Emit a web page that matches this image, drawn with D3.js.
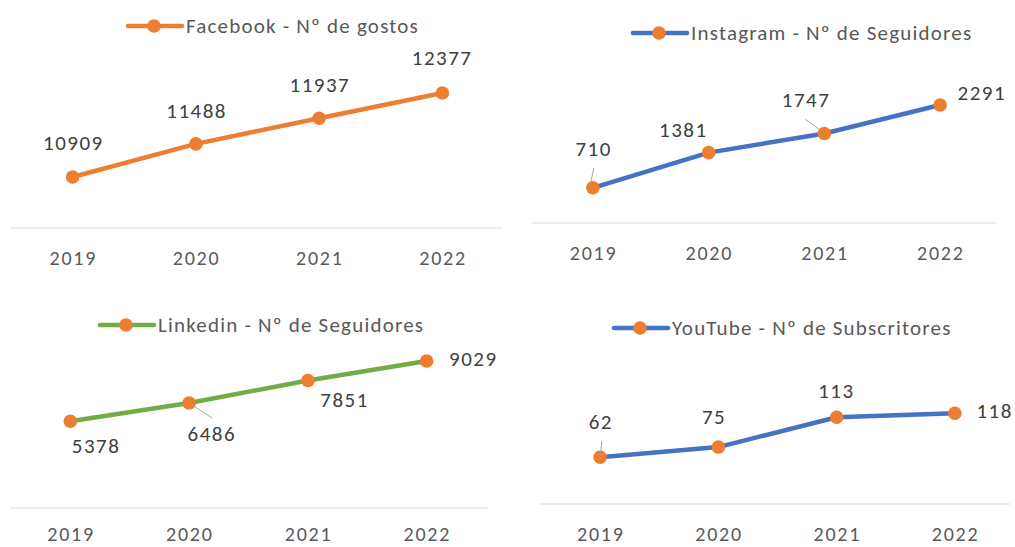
<!DOCTYPE html>
<html>
<head>
<meta charset="utf-8">
<script src="https://cdn.jsdelivr.net/npm/d3@7"></script>
<style>
  body { margin: 0; background: #fff; }
  text { font-family: Carlito, Lato, "Liberation Sans", sans-serif; }
</style>
</head>
<body>
<div id="chart"></div>
<script>
const width = 1015;
const height = 547;

// data
const years = ['2019', '2020', '2021', '2022'];
const facebook = [10909, 11488, 11937, 12377];
const instagram = [710, 1381, 1747, 2291];
const linkedin = [5378, 6486, 7851, 9029];
const youtube = [62, 75, 113, 118];
const titles = ['Facebook - Nº de gostos', 'Instagram - Nº de Seguidores',
                'Linkedin - Nº de Seguidores', 'YouTube - Nº de Subscritores'];

const orange = '#ed7d31', blue = '#4472c4', green = '#70ad47';

// layout of the four small charts
// labels: [dx, dy] from the point, lead: leader line [x1, y1, x2, y2] from the point
const panels = [
  { values: facebook, title: titles[0], line: orange,
    xr: [11, 504], axis: [11, 503], axisY: 228, yDomain: [10000, 12500], yr: [229, 86], yearY: 258,
    legend: { x: 128, y: 26 },
    labels: [[0, -34], [0, -33], [0, -33], [-1, -35]], lead: [] },
  { values: instagram, title: titles[1], line: blue,
    xr: [535, 998], axis: [532, 996], axisY: 223, yDomain: [0, 2500], yr: [225, 94], yearY: 253,
    legend: { x: 633, y: 33 },
    labels: [[0, -39], [-26, -23], [-19, -33], [41, -12]],
    lead: [[-2, -6, 1, -20], null, [-5, -4, -19, -14], null] },
  { values: linkedin, title: titles[2], line: green,
    xr: [11, 486], axis: [10, 488], axisY: 508, yDomain: [0, 10000], yr: [510, 345], yearY: 534,
    legend: { x: 100, y: 325 },
    labels: [[25, 25], [22, 31], [36, 20], [46, -2]],
    lead: [null, [3, 2, 23, 15], null, null] },
  { values: youtube, title: titles[3], line: blue,
    xr: [541, 1014], axis: [540, 1010], axisY: 504, yDomain: [0, 140], yr: [506, 396], yearY: 534,
    legend: { x: 614, y: 328 },
    labels: [[0, -35], [-5, -30], [-1, -26], [39, -2]],
    lead: [[1.7, -16, 0.7, -5], null, null, null] }
];

const svg = d3.select('#chart')
  .append('svg')
  .attr('width', width)
  .attr('height', height);

panels.forEach(function(p) {
  const g = svg.append('g');
  const x = d3.scalePoint().domain(years).range(p.xr).padding(0.5);
  const y = d3.scaleLinear().domain(p.yDomain).range(p.yr);

  // category axis: a light baseline and the year labels
  g.append('line')
    .attr('x1', p.axis[0]).attr('x2', p.axis[1])
    .attr('y1', p.axisY).attr('y2', p.axisY)
    .attr('stroke', '#d9d9d9')
    .attr('stroke-width', 1.2);
  g.selectAll('text.year')
    .data(years)
    .enter()
    .append('text')
    .classed('year', true)
    .attr('x', d => x(d) + 0.75)
    .attr('y', p.yearY)
    .attr('text-anchor', 'middle')
    .attr('dominant-baseline', 'central')
    .attr('fill', '#595959')
    .style('font-size', '20px')
    .style('letter-spacing', '1.8px')
    .text(d => d);

  const pts = years.map((d, i) => [x(d), y(p.values[i])]);

  g.append('path')
    .attr('d', d3.line()(pts))
    .attr('fill', 'none')
    .attr('stroke', p.line)
    .attr('stroke-width', 4.5)
    .attr('stroke-linejoin', 'round')
    .attr('stroke-linecap', 'round');

  g.selectAll('circle')
    .data(pts)
    .enter()
    .append('circle')
    .attr('cx', d => d[0])
    .attr('cy', d => d[1])
    .attr('r', 6.8)
    .attr('fill', orange);

  // data labels, some with leader lines
  p.values.forEach(function(v, i) {
    const [dx, dy] = p.labels[i];
    const px = pts[i][0], py = pts[i][1];
    const ld = p.lead[i];
    if (ld) {
      g.append('line')
        .attr('x1', px + ld[0]).attr('y1', py + ld[1])
        .attr('x2', px + ld[2]).attr('y2', py + ld[3])
        .attr('stroke', '#a6a6a6')
        .attr('stroke-width', 1);
    }
    g.append('text')
      .attr('x', px + dx + 0.75)
      .attr('y', py + dy)
      .attr('text-anchor', 'middle')
      .attr('dominant-baseline', 'central')
      .attr('fill', '#404040')
      .style('font-size', '21px')
      .style('letter-spacing', '1.5px')
      .text(v);
  });

  // legend
  const lg = g.append('g')
    .attr('transform', `translate(${p.legend.x},${p.legend.y})`);
  lg.append('line')
    .attr('x1', 0).attr('x2', 54)
    .attr('y1', 0).attr('y2', 0)
    .attr('stroke', p.line)
    .attr('stroke-width', 4.5)
    .attr('stroke-linecap', 'round');
  lg.append('circle')
    .attr('cx', 26).attr('cy', 0)
    .attr('r', 6.8)
    .attr('fill', orange);
  lg.append('text')
    .attr('x', 58)
    .attr('y', 0)
    .attr('dominant-baseline', 'central')
    .attr('fill', '#595959')
    .style('font-size', '21px')
    .style('letter-spacing', '1.2px')
    .text(p.title);
});
</script>
</body>
</html>
